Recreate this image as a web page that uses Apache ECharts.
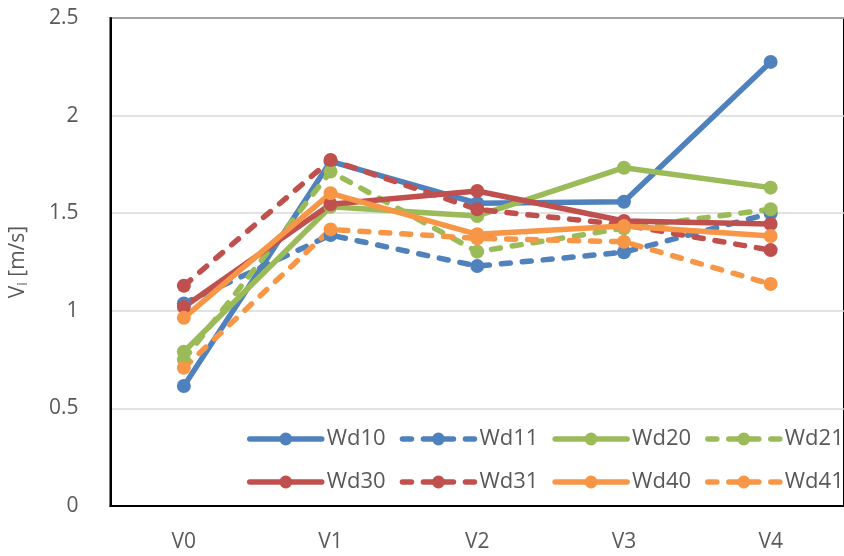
<!DOCTYPE html>
<html>
<head>
<meta charset="utf-8">
<script src="https://cdn.jsdelivr.net/npm/echarts@6/dist/echarts.min.js"></script>
<style>
  html, body { margin: 0; padding: 0; background: #fff; }
  #lineChart { width: 844px; height: 556px; }
</style>
</head>
<body>
<div id="lineChart"></div>
<script>
// categories + values
const categories = ['V0', 'V1', 'V2', 'V3', 'V4']
const wd10 = [0.615, 1.765, 1.551, 1.559, 2.275]
const wd11 = [1.038, 1.388, 1.229, 1.300, 1.500]
const wd20 = [0.790, 1.533, 1.486, 1.733, 1.631]
const wd21 = [0.750, 1.713, 1.303, 1.423, 1.520]
const wd30 = [1.020, 1.546, 1.614, 1.460, 1.445]
const wd31 = [1.128, 1.773, 1.520, 1.440, 1.311]
const wd40 = [0.964, 1.602, 1.392, 1.434, 1.383]
const wd41 = [0.708, 1.417, 1.371, 1.354, 1.137]

const blue = '#4F81BD'
const red = '#C0504D'
const green = '#9BBB59'
const orange = '#F79646'
const textColor = '#595959'
const fontFamily = '"Open Sans", sans-serif'

function makeSeries(name, data, color, dashed) {
  return {
    name: name,
    type: 'line',
    data: data,
    symbol: 'circle',
    symbolSize: 14,
    itemStyle: { color: color },
    lineStyle: {
      color: color,
      width: 5.5,
      type: dashed ? [9, 12] : 'solid',
      cap: 'round'
    },
    emphasis: { disabled: true },
    animation: false
  }
}

function makeLegend(names, top) {
  return {
    data: names,
    orient: 'horizontal',
    left: 242,
    top: top,
    width: 620,
    itemWidth: 72,
    itemHeight: 16,
    itemGap: 14,
    lineStyle: { width: 'inherit' },
    textStyle: { color: textColor, fontSize: 22, fontFamily: fontFamily },
    selectedMode: false
  }
}

var myChart = echarts.init(document.getElementById('lineChart'))

const option = {
  backgroundColor: '#fff',
  textStyle: { fontFamily: fontFamily },
  grid: {
    left: 103,
    right: -4,
    top: 18,
    bottom: 50,
    show: true,
    borderColor: '#000',
    borderWidth: 2
  },
  legend: [
    makeLegend(['Wd10', 'Wd11', 'Wd20', 'Wd21'], 423),
    makeLegend(['Wd30', 'Wd31', 'Wd40', 'Wd41'], 466)
  ],
  xAxis: {
    type: 'category',
    data: categories,
    boundaryGap: true,
    axisLine: { lineStyle: { color: '#000', width: 2 } },
    axisTick: { show: false },
    axisLabel: { color: textColor, fontSize: 21, margin: 26, fontFamily: fontFamily }
  },
  yAxis: {
    type: 'value',
    min: 0,
    max: 2.5,
    interval: 0.5,
    name: '{a|V}{b|i}{a| [m/s]}',
    nameLocation: 'middle',
    nameGap: 80,
    nameTextStyle: {
      rich: {
        a: { color: textColor, fontSize: 21, fontFamily: fontFamily },
        b: { color: textColor, fontSize: 14, fontFamily: fontFamily, padding: [10, 0, 0, 0] }
      }
    },
    axisLine: { show: true, lineStyle: { color: '#000', width: 2 } },
    axisTick: { show: false },
    axisLabel: { color: textColor, fontSize: 21, margin: 32, fontFamily: fontFamily },
    splitLine: { lineStyle: { color: '#D9D9D9', width: 1.5 } }
  },
  series: [
    makeSeries('Wd10', wd10, blue, false),
    makeSeries('Wd11', wd11, blue, true),
    makeSeries('Wd20', wd20, green, false),
    makeSeries('Wd21', wd21, green, true),
    makeSeries('Wd30', wd30, red, false),
    makeSeries('Wd31', wd31, red, true),
    makeSeries('Wd40', wd40, orange, false),
    makeSeries('Wd41', wd41, orange, true)
  ]
}

myChart.setOption(option)
</script>
</body>
</html>
